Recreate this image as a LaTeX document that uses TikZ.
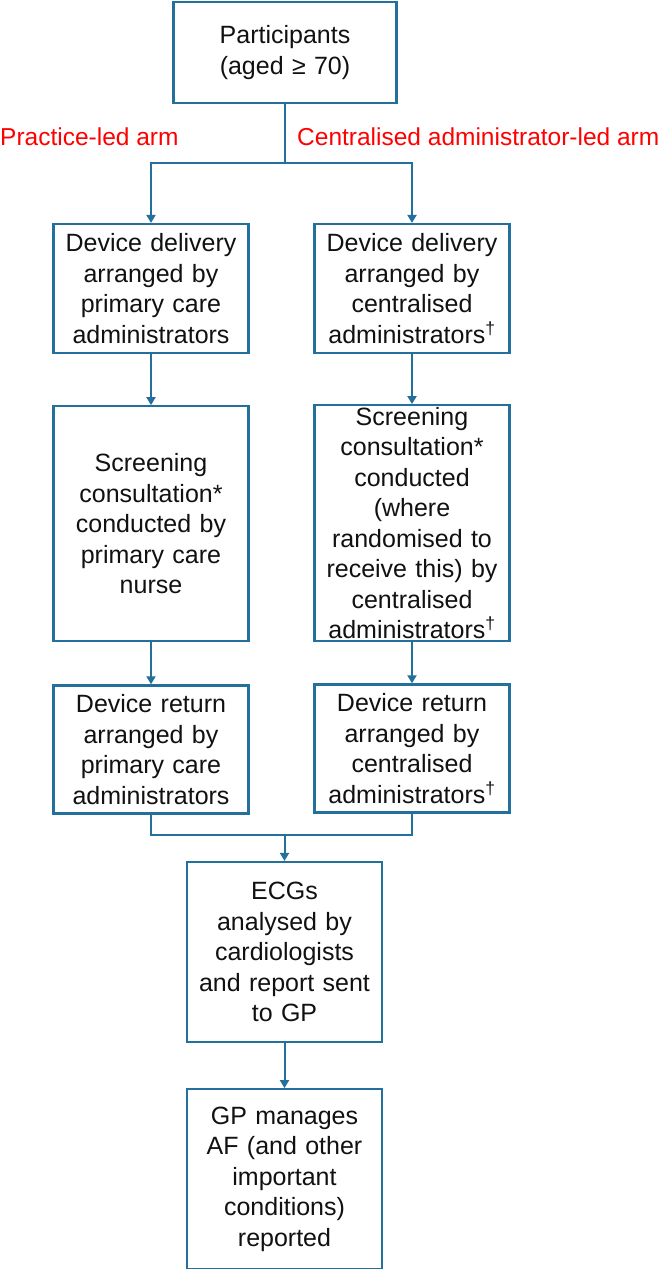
\documentclass[tikz,border=0pt]{standalone}
\usepackage{fontspec}
\setmainfont{Liberation Sans}
\usepackage{xcolor}
\definecolor{ink}{HTML}{111111}
\definecolor{frameblue}{HTML}{24709C}
\definecolor{armred}{HTML}{FF0000}
\usepackage{tikz}
\usetikzlibrary{arrows.meta,positioning}
\tikzset{>={Triangle[length=8pt,width=9pt]},
  box/.style={draw=frameblue,line width=2.2pt,fill=white,align=center,text=ink,
    text width=189pt,inner xsep=3pt,inner ysep=0pt,
    font=\fontsize{25}{30.5}\selectfont},
  link/.style={line width=2pt,frameblue},
  flow/.style={link,->},
  armlbl/.style={font=\fontsize{24.5}{29}\selectfont,text=armred,inner sep=0pt}}

\begin{document}
\begin{tikzpicture}[x=1pt,y=-1pt]
  \useasboundingbox (0,0) rectangle (668,1269);
  \node[box,text width=217pt,minimum height=101pt] (part) at (285,52.5) {Participants\\(aged ≥ 70)};
  \node[armlbl,anchor=base west] (plbl) at (0,145) {Practice-led arm};
  \node[armlbl,anchor=base west] (clbl) at (297,145) {Centralised administrator-led arm};
  % practice-led column
  \node[box,minimum height=129pt] (dl) at (151,288.5) {Device delivery\\arranged by\\primary care\\administrators};
  \node[box,minimum height=235pt,below=51pt of dl] (sl) {Screening\\consultation*\\conducted by\\primary care\\nurse};
  \node[box,minimum height=128pt,below=42pt of sl] (pr) {Device return\\arranged by\\primary care\\administrators};
  % centralised column
  \node[box,minimum height=129pt] (dr) at (412,288.5) {Device delivery\\arranged by\\centralised\\administrators\textsuperscript{\textdagger}};
  \node[box,minimum height=236pt,below=50pt of dr] (sr) {Screening\\consultation*\\conducted\\(where\\randomised to\\receive this) by\\centralised\\administrators\textsuperscript{\textdagger}};
  \node[box,minimum height=128pt,below=41pt of sr] (cr) {Device return\\arranged by\\centralised\\administrators\textsuperscript{\textdagger}};
  % shared steps
  \node[box,minimum height=180pt] (ecg) at (284.5,952) {ECGs\\analysed by\\cardiologists\\and report sent\\to GP};
  \node[box,minimum height=180pt,below=45pt of ecg] (gp) {GP manages\\AF (and other\\important\\conditions)\\reported};
  \coordinate (split) at (285,163);
  \coordinate (merge) at (284.5,835);
  \draw[link] (part) -- (split);
  \draw[flow] (split) -| (dl);
  \draw[flow] (split) -| (dr);
  \draw[flow] (dl) -- (sl);
  \draw[flow] (sl) -- (pr);
  \draw[flow] (dr) -- (sr);
  \draw[flow] (sr) -- (cr);
  \draw[link] (pr) |- (merge);
  \draw[link] (cr) |- (merge);
  \draw[flow] (merge) -- (ecg);
  \draw[flow] (ecg) -- (gp);
\end{tikzpicture}
\end{document}
